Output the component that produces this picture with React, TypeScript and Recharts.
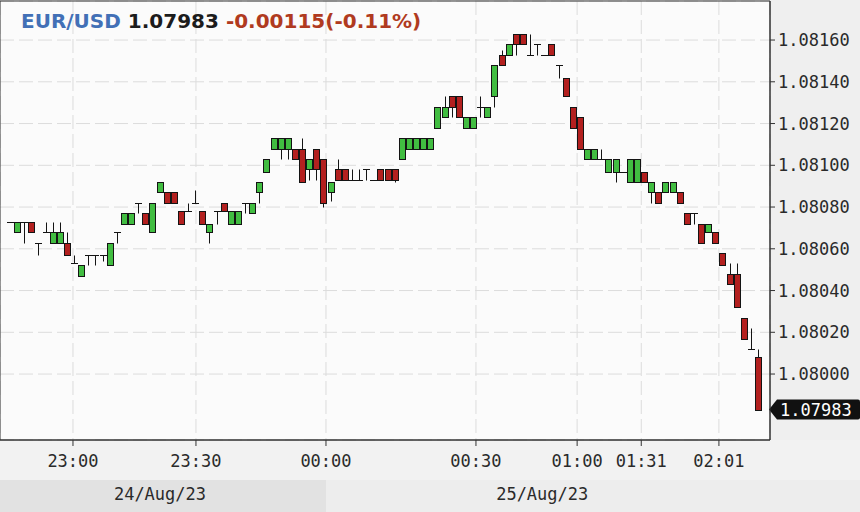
import React from "react";
import { ComposedChart, Bar, XAxis, YAxis, CartesianGrid, ReferenceLine, ReferenceArea } from "recharts";

// one-minute EUR/USD candles, left to right (only minutes with trades are shown)
const opens = [
  1.08073, 1.08068, 1.08073, 1.08073, 1.08063, 1.08068, 1.08063, 1.08063, 1.08063, 1.08053,
  1.08047, 1.08057, 1.08057, 1.08057, 1.08052, 1.08068, 1.08072, 1.08072, 1.08082, 1.08077,
  1.08068, 1.08087, 1.08087, 1.08087, 1.08078, 1.08078, 1.08082, 1.08078, 1.08068, 1.08078,
  1.08082, 1.08072, 1.08072, 1.08082, 1.08077, 1.08087, 1.08097, 1.08108, 1.08108, 1.08108,
  1.08108, 1.08108, 1.08098, 1.08108, 1.08103, 1.08087, 1.08098, 1.08098, 1.08093, 1.08093,
  1.08098, 1.08093, 1.08098, 1.08098, 1.08098, 1.08103, 1.08108, 1.08108, 1.08108, 1.08108,
  1.08118, 1.08123, 1.08133, 1.08133, 1.08118, 1.08118, 1.08128, 1.08123, 1.08133, 1.08153,
  1.08153, 1.08163, 1.08163, 1.08153, 1.08158, 1.08153, 1.08158, 1.08148, 1.08142, 1.08128,
  1.08123, 1.08103, 1.08103, 1.08103, 1.08097, 1.08097, 1.08097, 1.08092, 1.08092, 1.08097,
  1.08087, 1.08087, 1.08087, 1.08087, 1.08087, 1.08077, 1.08077, 1.08072, 1.08068, 1.08068,
  1.08058, 1.08048, 1.08048, 1.08027, 1.08012, 1.08008,
];
const highs = [
  1.08073, 1.08073, 1.08073, 1.08073, 1.08063, 1.08073, 1.08073, 1.08073, 1.08068, 1.08057,
  1.08052, 1.08057, 1.08057, 1.08057, 1.08063, 1.08068, 1.08077, 1.08077, 1.08082, 1.08077,
  1.08082, 1.08092, 1.08087, 1.08087, 1.08078, 1.08082, 1.08088, 1.08078, 1.08072, 1.08078,
  1.08082, 1.08078, 1.08078, 1.08082, 1.08082, 1.08092, 1.08103, 1.08113, 1.08113, 1.08113,
  1.08108, 1.08113, 1.08103, 1.08108, 1.08103, 1.08092, 1.08103, 1.08098, 1.08098, 1.08098,
  1.08098, 1.08093, 1.08098, 1.08098, 1.08098, 1.08113, 1.08113, 1.08113, 1.08113, 1.08113,
  1.08128, 1.08133, 1.08133, 1.08133, 1.08123, 1.08123, 1.08133, 1.08128, 1.08148, 1.08155,
  1.08158, 1.08163, 1.08163, 1.08163, 1.08158, 1.08153, 1.08158, 1.08148, 1.08142, 1.08128,
  1.08123, 1.08108, 1.08108, 1.08108, 1.08103, 1.08103, 1.08097, 1.08103, 1.08103, 1.08097,
  1.08092, 1.08087, 1.08092, 1.08092, 1.08087, 1.08077, 1.08077, 1.08072, 1.08072, 1.08068,
  1.08058, 1.08053, 1.08053, 1.08027, 1.08022, 1.08012,
];
const lows = [
  1.08073, 1.08068, 1.08063, 1.08068, 1.08057, 1.08068, 1.08063, 1.08063, 1.08057, 1.08053,
  1.08047, 1.08052, 1.08052, 1.08054, 1.08052, 1.08063, 1.08072, 1.08072, 1.08077, 1.08072,
  1.08068, 1.08087, 1.08082, 1.08082, 1.08072, 1.08078, 1.08082, 1.08072, 1.08063, 1.08072,
  1.08078, 1.08072, 1.08072, 1.08077, 1.08077, 1.08082, 1.08097, 1.08108, 1.08103, 1.08103,
  1.08103, 1.08092, 1.08093, 1.08093, 1.08080, 1.08083, 1.08093, 1.08093, 1.08093, 1.08093,
  1.08093, 1.08093, 1.08093, 1.08093, 1.08092, 1.08103, 1.08108, 1.08108, 1.08108, 1.08108,
  1.08118, 1.08123, 1.08123, 1.08123, 1.08118, 1.08118, 1.08123, 1.08123, 1.08128, 1.08148,
  1.08153, 1.08153, 1.08158, 1.08153, 1.08153, 1.08153, 1.08153, 1.08142, 1.08133, 1.08118,
  1.08108, 1.08103, 1.08103, 1.08103, 1.08097, 1.08092, 1.08097, 1.08092, 1.08092, 1.08092,
  1.08082, 1.08082, 1.08087, 1.08087, 1.08082, 1.08072, 1.08072, 1.08063, 1.08068, 1.08063,
  1.08052, 1.08043, 1.08032, 1.08017, 1.08012, 1.07983,
];
const closes = [
  1.08073, 1.08073, 1.08073, 1.08068, 1.08063, 1.08068, 1.08068, 1.08068, 1.08057, 1.08053,
  1.08052, 1.08057, 1.08057, 1.08057, 1.08063, 1.08068, 1.08077, 1.08077, 1.08082, 1.08072,
  1.08082, 1.08092, 1.08082, 1.08082, 1.08072, 1.08078, 1.08082, 1.08072, 1.08072, 1.08078,
  1.08078, 1.08078, 1.08078, 1.08082, 1.08082, 1.08092, 1.08103, 1.08113, 1.08113, 1.08113,
  1.08103, 1.08092, 1.08103, 1.08098, 1.08082, 1.08092, 1.08093, 1.08093, 1.08093, 1.08093,
  1.08098, 1.08093, 1.08093, 1.08093, 1.08093, 1.08113, 1.08113, 1.08113, 1.08113, 1.08113,
  1.08128, 1.08128, 1.08128, 1.08123, 1.08123, 1.08123, 1.08128, 1.08128, 1.08148, 1.08148,
  1.08158, 1.08158, 1.08158, 1.08153, 1.08158, 1.08153, 1.08153, 1.08148, 1.08133, 1.08118,
  1.08108, 1.08108, 1.08108, 1.08103, 1.08103, 1.08103, 1.08097, 1.08103, 1.08103, 1.08092,
  1.08092, 1.08082, 1.08092, 1.08092, 1.08082, 1.08072, 1.08077, 1.08063, 1.08072, 1.08063,
  1.08052, 1.08043, 1.08032, 1.08017, 1.08012, 1.07983,
];

const priceTicks = [1.08, 1.0802, 1.0804, 1.0806, 1.0808, 1.081, 1.0812, 1.0814, 1.0816];
// time ticks sit between candles (positions in candle-index units)
const timeTickPos = [8.84, 26.1, 44.35, 65.4, 79.6, 88.6, 99.5];
const timeLabels = ["23:00", "23:30", "00:00", "00:30", "01:00", "01:31", "02:01"];
const dateTickPos = [21.05, 74.7];
const dateLabels = ["24/Aug/23", "25/Aug/23"];
const midnightPos = 44.35;

const lastPrice = 1.07983;
const change = "-0.00115(-0.11%)";

const Y_MIN = 1.079684;
const Y_MAX = 1.081787;
const X_MIN = -1.4035;
const X_MAX = 106.67;

const W = 860;
const H = 512;
const AXIS_W = 90;
const TIME_H = 40;
const DATE_H = 32;
const PLOT_W = W - AXIS_W;

const MONO = "'DejaVu Sans Mono', monospace";
const GREEN = "#41bd41";
const RED = "#b3201f";
const INK = "#141414";

const data = opens.map((o, i) => ({
  i,
  open: o,
  high: highs[i],
  low: lows[i],
  close: closes[i],
  range: [Y_MIN, highs[i]],
}));

function Candle(props: any) {
  const { x, y, width, height, payload } = props;
  if (height == null || !payload) return null;
  const { open, close, high, low } = payload;
  const k = height / (high - Y_MIN);
  const py = (v: number) => y + (high - v) * k;
  const cx = Math.round(x + width / 2) + 0.5;
  const top = Math.round(py(Math.max(open, close))) + 0.5;
  const bot = Math.round(py(Math.min(open, close))) + 0.5;
  const hi = Math.round(py(high)) + 0.5;
  const lo = Math.round(py(low)) + 0.5;
  return (
    <g>
      {lo - hi > 0.5 && <line x1={cx} x2={cx} y1={hi} y2={lo} stroke={INK} strokeWidth={1} />}
      {bot - top < 1 ? (
        <line x1={cx - 3.5} x2={cx + 3.5} y1={top} y2={top} stroke={INK} strokeWidth={1} />
      ) : (
        <rect x={cx - 3} y={top} width={6} height={bot - top} fill={close > open ? GREEN : RED} stroke={INK} strokeWidth={1} />
      )}
    </g>
  );
}

function PriceTag(props: any) {
  const vb = props.viewBox;
  if (!vb) return null;
  const x = vb.x + vb.width;
  const y = vb.y;
  return (
    <g>
      <path d={`M${x - 1},${y} L${x + 7},${y - 10} H${x + 88} Q${x + 90},${y - 10} ${x + 90},${y - 8} V${y + 8} Q${x + 90},${y + 10} ${x + 88},${y + 10} H${x + 7} Z`} fill="#111" />
      <text x={x + 10} y={y} dy="0.36em" fill="#fff" fontFamily={MONO} fontSize={17}>
        {lastPrice.toFixed(5)}
      </text>
    </g>
  );
}

export default function App() {
  const midX = ((midnightPos - X_MIN) / (X_MAX - X_MIN)) * PLOT_W;
  const bandTop = H - DATE_H;
  return (
    <div style={{ position: "absolute", left: 0, top: 0, width: W, height: H, background: "#efefef", overflow: "hidden" }}>
      <div style={{ position: "absolute", left: 0, top: H - DATE_H - TIME_H, width: W, height: TIME_H, background: "#f2f2f2" }} />
      <div style={{ position: "absolute", left: 0, top: bandTop, width: midX, height: DATE_H, background: "#e2e2e2" }} />
      <div style={{ position: "absolute", left: midX, top: bandTop, width: W - midX, height: DATE_H, background: "#ededed" }} />
      <ComposedChart
        width={W}
        height={H}
        data={data}
        margin={{ top: 1, right: 0, bottom: 0, left: 0 }}
        style={{ position: "absolute", left: 0, top: 0 }}
      >
        <CartesianGrid xAxisId="a" fill="#fbfbfb" stroke="#dcdcdc" strokeDasharray="14 5" />
        <XAxis
          xAxisId="a"
          type="number"
          dataKey="i"
          domain={[X_MIN, X_MAX]}
          allowDataOverflow
          ticks={timeTickPos}
          interval={0}
          tickFormatter={(v: number) => timeLabels[timeTickPos.indexOf(v)]}
          height={TIME_H}
          tickSize={6}
          tickMargin={9}
          axisLine={{ stroke: "#333" }}
          tickLine={{ stroke: "#333" }}
          tick={{ fill: "#2a2a2a", fontSize: 17, fontFamily: MONO }}
        />
        <XAxis
          xAxisId="b"
          type="number"
          dataKey="i"
          domain={[X_MIN, X_MAX]}
          allowDataOverflow
          ticks={dateTickPos}
          interval={0}
          tickFormatter={(v: number) => dateLabels[dateTickPos.indexOf(v)]}
          height={DATE_H}
          tickSize={0}
          tickMargin={8}
          axisLine={false}
          tickLine={false}
          tick={{ fill: "#2a2a2a", fontSize: 17, fontFamily: MONO }}
        />
        <YAxis
          orientation="right"
          type="number"
          domain={[Y_MIN, Y_MAX]}
          allowDataOverflow
          ticks={priceTicks}
          interval={0}
          tickFormatter={(v: number) => v.toFixed(5)}
          width={AXIS_W}
          tickSize={5}
          tickMargin={3}
          axisLine={{ stroke: "#333" }}
          tickLine={{ stroke: "#333" }}
          tick={{ fill: "#2a2a2a", fontSize: 17, fontFamily: MONO }}
        />
        <ReferenceArea xAxisId="a" x1={X_MIN} x2={X_MAX} y1={Y_MIN} y2={Y_MAX} fill="none" stroke="#333" strokeOpacity={1} />
        <Bar xAxisId="a" dataKey="range" barSize={7} shape={<Candle />} isAnimationActive={false} />
        <ReferenceLine xAxisId="a" y={lastPrice} stroke="none" label={(p: any) => <PriceTag {...p} />} />
      </ComposedChart>
      <div
        style={{
          position: "absolute",
          left: 21,
          top: 11,
          fontFamily: "'DejaVu Sans', sans-serif",
          fontWeight: "bold",
          fontSize: 20,
          lineHeight: "20px",
          whiteSpace: "nowrap",
        }}
      >
        <span style={{ color: "#4270b6" }}>EUR/USD</span>{" "}
        <span style={{ color: "#1c1c1c" }}>{lastPrice.toFixed(5)}</span>{" "}
        <span style={{ color: "#b03a20" }}>{change}</span>
      </div>
    </div>
  );
}
